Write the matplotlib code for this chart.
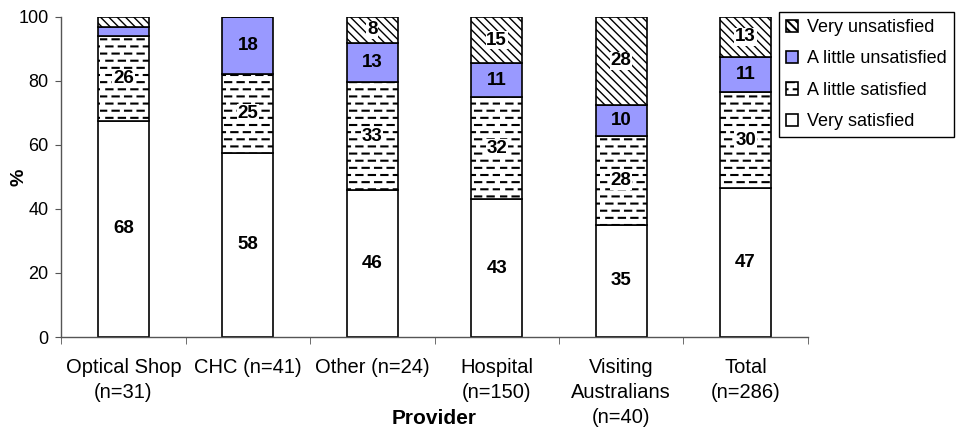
import numpy as np
import matplotlib
matplotlib.use("Agg")
from matplotlib import pyplot as plt
from matplotlib import hatch as mhatch
from matplotlib.path import Path

#---------------------------------------------------------------------------------------
# Data
#---------------------------------------------------------------------------------------

providers = ["Optical Shop\n(n=31)", "CHC (n=41)", "Other (n=24)",
             "Hospital\n(n=150)", "Visiting\nAustralians\n(n=40)", "Total\n(n=286)"]

very_sat     = [67.5, 57.5, 46.0, 43.0, 35.0, 46.5]
little_sat   = [26.5, 24.5, 33.5, 32.0, 27.8, 30.0]
little_unsat = [2.7, 18.0, 12.3, 10.4, 9.6, 10.9]
very_unsat   = [3.3, 0.0, 8.2, 14.6, 27.6, 12.6]

lab_very_sat     = ["68", "58", "46", "43", "35", "47"]
lab_little_sat   = ["26", "25", "33", "32", "28", "30"]
lab_little_unsat = ["", "18", "13", "11", "10", "11"]
lab_very_unsat   = ["", "", "8", "15", "28", "13"]

series_names = ["Very satisfied", "A little satisfied", "A little unsatisfied", "Very unsatisfied"]

#---------------------------------------------------------------------------------------
# Dashed horizontal hatch (replaces the plain '-' one)
#---------------------------------------------------------------------------------------

class DashHatch(mhatch.HatchPatternBase):
    def __init__(self, hatch, density):
        self.num_rows = int(hatch.count('-') * density * 7 // 6)
        self.num_dashes = 8
        self.num_vertices = self.num_rows * self.num_dashes * 2

    def set_vertices_and_codes(self, vertices, codes):
        steps, stepsize = np.linspace(0.0, 1.0, self.num_rows, False, retstep=True)
        steps += stepsize / 2.
        period = 1.0 / self.num_dashes
        dash = 0.5 * period
        k = 0
        for r, yy in enumerate(steps):
            off = 0.5 * period * (r % 2)
            for d in range(self.num_dashes):
                x0 = (d * period + off) % 1.0
                x1 = min(x0 + dash, 1.0)
                vertices[k] = (x0, yy)
                vertices[k + 1] = (x1, yy)
                codes[k] = Path.MOVETO
                codes[k + 1] = Path.LINETO
                k += 2

mhatch._hatch_types = [DashHatch if t is mhatch.HorizontalHatch else t for t in mhatch._hatch_types]

#---------------------------------------------------------------------------------------
# Plot
#---------------------------------------------------------------------------------------

plt.rcParams['font.family'] = ['Liberation Sans', 'DejaVu Sans']
plt.rcParams['hatch.linewidth'] = 1.5

fig = plt.figure(figsize=(9.56, 4.34), dpi=100)
ax = fig.add_axes([0.064, 0.2235, 0.781, 0.738])

x = np.arange(len(providers))
w = 0.41

vs = np.array(very_sat)
ls = np.array(little_sat)
lu = np.array(little_unsat)
vu = np.array(very_unsat)

b1 = ax.bar(x, vs, w, color="white", edgecolor="black", lw=1.2, label=series_names[0])
b2 = ax.bar(x, ls, w, bottom=vs, color="white", edgecolor="black", lw=1.2,
            hatch="--", label=series_names[1])
b3 = ax.bar(x, lu, w, bottom=vs + ls, color="#9999ff", edgecolor="black", lw=1.2,
            label=series_names[2])
with plt.rc_context({'hatch.linewidth': 1.0}):
    b4 = ax.bar(x, vu, w, bottom=vs + ls + lu, color="white", edgecolor="black", lw=1.2,
                hatch="\\\\\\\\", label=series_names[3])

box = dict(facecolor="white", edgecolor="none", pad=0.6)
fs = 13.5
for i in range(len(x)):
    ax.text(x[i], vs[i] / 2, lab_very_sat[i], ha="center", va="center",
            fontsize=fs, fontweight="bold")
    ax.text(x[i], vs[i] + ls[i] / 2, lab_little_sat[i], ha="center", va="center",
            fontsize=fs, fontweight="bold", bbox=box)
    if lab_little_unsat[i]:
        ax.text(x[i], vs[i] + ls[i] + lu[i] / 2, lab_little_unsat[i], ha="center",
                va="center", fontsize=fs, fontweight="bold")
    if lab_very_unsat[i]:
        ax.text(x[i], vs[i] + ls[i] + lu[i] + vu[i] / 2, lab_very_unsat[i], ha="center",
                va="center", fontsize=fs, fontweight="bold", bbox=box)

ax.set_xlim(-0.5, len(x) - 0.5)
ax.set_ylim(0, 100)
ax.set_yticks(np.arange(0, 101, 20))
ax.tick_params(axis="y", labelsize=13, length=4, direction="out", pad=5, color="#555555")

ax.set_xticks(x)
ax.set_xticklabels(providers, fontsize=14.5, linespacing=1.4)
ax.set_xticks(np.arange(-0.5, len(x), 1.0), minor=True)
ax.tick_params(axis="x", which="major", length=0, pad=15)
ax.tick_params(axis="x", which="minor", length=5, direction="out", color="#555555")

for s in ["top", "right"]:
    ax.spines[s].set_visible(False)
for s in ["left", "bottom"]:
    ax.spines[s].set_color("#555555")
    ax.spines[s].set_linewidth(1.0)

ax.set_xlabel("Provider", fontsize=15, fontweight="bold", va="center")
ax.xaxis.set_label_coords(0.5, -0.253)
ax.set_ylabel("%", fontsize=14, fontweight="bold", va="center")
ax.yaxis.set_label_coords(-0.057, 0.5)

fig.legend([b4, b3, b2, b1], [series_names[3], series_names[2], series_names[1], series_names[0]],
           loc="upper left", bbox_to_anchor=(0.815, 0.973), fontsize=13,
           frameon=True, fancybox=False, edgecolor="black", framealpha=1,
           handlelength=0.65, handleheight=0.65, handletextpad=0.5,
           labelspacing=0.8, borderpad=0.4, borderaxespad=0)

fig.savefig("out.png", dpi=100)
